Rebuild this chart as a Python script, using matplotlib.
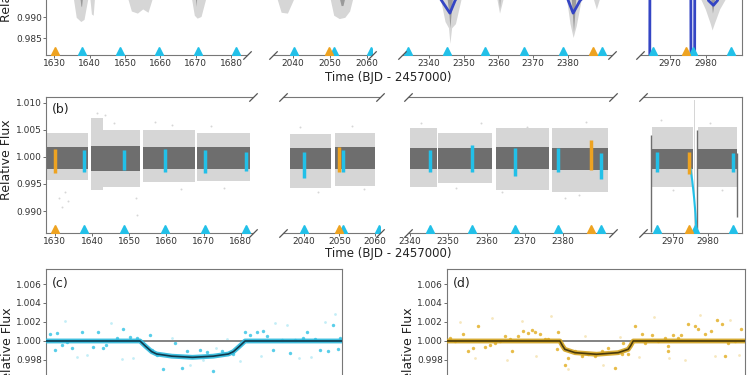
import matplotlib
matplotlib.use("Agg")
import matplotlib.pyplot as plt
import matplotlib.transforms as mtransforms
from matplotlib.ticker import FormatStrFormatter
import numpy as np

nan = np.nan
# ---------------- data ----------------
cyan_transits = [1637.7, 1648.6, 1659.6, 1670.5, 1681.4, 2040.2, 2051.0, 2061.0,
                 2334.0, 2345.2, 2356.1, 2367.3, 2378.6, 2389.8, 2965.4, 2976.3, 2987.0]
orange_transits = [1630.1, 2049.8, 2387.2, 2974.5]

seg_ticks = [[1630, 1640, 1650, 1660, 1670, 1680], [2040, 2050, 2060],
             [2340, 2350, 2360, 2370, 2380], [2970, 2980]]
xlims_a = [(1627.65, 1684.5), (2034.6, 2061.35), (2332.2, 2392.7), (2961.7, 2990.0)]
xlims_b = [(1627.6, 1683.3), (2034.2, 2061.4), (2339.5, 2393.0), (2961.4, 2989.7)]

# panel (a): lower envelope of scatter tails (light grey / dark grey)
a_light_t = [
    [1627.8, 1635.3, 1636.2, 1637.5, 1638.4, 1639.6, 1640.0, 1640.5, 1641.0, 1641.4,
     1650.6, 1651.8, 1653.5, 1655.0, 1656.5, 1657.9, 1668.7, 1669.6, 1670.4, 1671.5, 1673.0, 1683.0],
    [2034.8, 2035.5, 2036.8, 2038.5, 2040.5, 2049.9, 2051.0, 2052.5, 2054.0, 2055.3, 2056.3, 2061.0],
    [2333.0, 2343.1, 2344.6, 2345.6, 2346.0, 2346.5, 2347.6, 2349.4, 2359.4, 2360.3, 2361.5,
     2379.5, 2380.6, 2381.5, 2382.4, 2384.0, 2387.1, 2388.2, 2389.3, 2392.0],
    [2963.9, 2978.2, 2979.8, 2981.2, 2981.7, 2982.3, 2983.8, 2985.8, 2988.2]]
a_light_lo = [
    [0.9950, 0.9950, 0.9900, 0.9890, 0.9895, 0.9950, 0.9950, 0.9908, 0.9905, 0.9950,
     0.9950, 0.9915, 0.9910, 0.9920, 0.9912, 0.9950, 0.9950, 0.9905, 0.9898, 0.9902, 0.9950, 0.9950],
    [0.9950, 0.9950, 0.9912, 0.9910, 0.9950, 0.9950, 0.9905, 0.9897, 0.9900, 0.9915, 0.9950, 0.9950],
    [0.9950, 0.9950, 0.9890, 0.9875, 0.9838, 0.9875, 0.9885, 0.9950, 0.9950, 0.9910, 0.9950,
     0.9950, 0.9885, 0.9852, 0.9880, 0.9950, 0.9950, 0.9920, 0.9950, 0.9950],
    [0.9950, 0.9950, 0.9920, 0.9885, 0.9870, 0.9885, 0.9920, 0.9950, 0.9950]]
a_dark_t = [
    [1637.2, 1637.5, 1637.7, 1638.0, 1669.9, 1670.1, 1670.3],
    [2052.4, 2053.0, 2053.5, 2054.1],
    [2345.1, 2345.7, 2346.0, 2346.3, 2346.8, 2360.1, 2360.3, 2360.5,
     2380.9, 2381.3, 2381.6, 2381.9, 2382.3],
    [2981.2, 2981.6, 2981.8, 2982.1, 2982.5]]
a_dark_lo = [
    [0.9950, 0.9928, 0.9925, 0.9950, 0.9950, 0.9926, 0.9950],
    [0.9950, 0.9928, 0.9928, 0.9950],
    [0.9950, 0.9910, 0.9875, 0.9905, 0.9950, 0.9950, 0.9922, 0.9950,
     0.9950, 0.9905, 0.9866, 0.9900, 0.9950],
    [0.9950, 0.9925, 0.9910, 0.9925, 0.9950]]
# panel (a): blue model curve
a_model_t = [[], [],
             [2340.0, 2343.6, 2346.0, 2347.5, 2351.0, 2378.0, 2380.1, 2381.5, 2383.5, 2390.0],
             [2964.35, 2964.45, 2970.0, 2975.8, 2975.9, 2976.8, 2976.9, 2979.5, 2980.7,
              2982.06, 2983.2, 2985.0, 2988.2]]
a_model_f = [[], [],
             [0.9990, 0.9940, 0.9910, 0.9940, 0.9990, 0.9990, 0.9940, 0.9910, 0.9940, 0.9990],
             [0.9500, 0.9990, 0.9990, 0.9990, 0.9500, 0.9500, 0.9990, 0.9990, 0.9940,
              0.99286, 0.9940, 0.9990, 0.9990]]

# panel (b): observing chunks (scatter bands)
b_chunk_t0 = [1627.8, 1639.6, 1653.8, 1668.3, 2036.1, 2048.7, 2340.0, 2347.4, 2362.4, 2377.2, 2963.9, 2977.0]
b_chunk_t1 = [1639.0, 1652.9, 1667.7, 1682.5, 2047.8, 2060.0, 2347.0, 2361.5, 2376.3, 2391.8, 2975.6, 2988.2]
b_light_hi = [1.0044, 1.0050, 1.0050, 1.0044, 1.0042, 1.0045, 1.0053, 1.0044, 1.0053, 1.0053, 1.0056, 1.0056]
b_light_lo = [0.9957, 0.9945, 0.9953, 0.9956, 0.9942, 0.9946, 0.9945, 0.9951, 0.9939, 0.9935, 0.9944, 0.9944]
b_dark_hi = [1.0018, 1.0020, 1.0018, 1.0018, 1.0016, 1.0018, 1.0016, 1.0016, 1.0018, 1.0016, 1.0015, 1.0015]
b_dark_lo = [0.9977, 0.9974, 0.9978, 0.9978, 0.9978, 0.9978, 0.9978, 0.9978, 0.9978, 0.9976, 0.9978, 0.9978]
b_extra_t0 = [1639.6, 2976.1]
b_extra_t1 = [1643.0, 2976.4]
b_extra_lo = [0.9938, 0.9862]
b_extra_hi = [1.0072, 1.0105]
b_out_t = [1631.2, 1632.0, 1632.6, 1633.4, 1641.2, 1643.5, 1646.0, 1651.8, 1652.2, 1656.8,
           1661.5, 1664.0, 1672.0, 1675.5, 2039.0, 2044.0, 2053.5, 2057.0, 2343.0, 2352.0,
           2358.5, 2364.0, 2370.5, 2380.5, 2384.0, 2386.0, 2966.5, 2970.0, 2980.5, 2984.0]
b_out_f = [0.9925, 0.9908, 0.9935, 0.9918, 1.0082, 1.0078, 1.0062, 0.9925, 0.9892, 1.0065,
           1.0060, 0.9940, 1.0058, 0.9942, 1.0055, 0.9935, 1.0058, 0.9940, 1.0063, 0.9942,
           1.0062, 0.9935, 1.0055, 0.9925, 0.9930, 1.0065, 1.0068, 0.9938, 1.0062, 0.9938]
b_dvl_t = [2963.8, 2976.75, 2988.25]
b_dvl_lo = [0.9862, 0.9862, 0.9889]
b_dvl_hi = [1.0041, 1.0050, 1.0007]
b_streak_t = [2975.0, 2975.5, 2976.0, 2976.4, 2976.7]
b_streak_f = [0.9978, 0.9955, 0.9925, 0.9895, 0.9862]
b_cyan_lo = [0.9972, 0.9975, 0.9972, 0.9970, 0.9974, 0.9962, 0.9972, nan, nan,
             0.9973, 0.9973, 0.9964, 0.9973, 0.9960, 0.9973, nan, 0.9973]
b_cyan_hi = [1.0013, 1.0012, 1.0015, 1.0012, 1.0010, 1.0010, 1.0012, nan, nan,
             1.0013, 1.0022, 1.0016, 1.0016, 1.0007, 1.0010, nan, 1.0007]
b_orange_lo = [0.9970, 0.9973, 0.9976, 0.9969]
b_orange_hi = [1.0015, 1.0019, 1.0031, 1.0010]

# panel (c): phase-folded, planet 1 (hours from mid-transit)
c_t = [-7.78, -7.42, -6.88, -6.07, -7.51, -7.15, -6.61, -5.44, -5.17, -4.90, -4.76, -4.18,
       -3.82, -3.46, -3.10, -2.29, -2.38, -2.02, -1.66, -1.03, -0.67, -0.40, 0.32, 0.68,
       1.05, 1.50, 2.13, 2.76, 3.03, 3.39, 3.75, 3.93, 4.29, 4.74, 5.19, 5.46, 5.91, 6.09,
       6.54, 6.81, 7.26, 7.53, 7.80, 7.89]
c_f = [1.0007, 1.0008, 0.9999, 1.0009, 0.9991, 0.9996, 0.9993, 0.9994, 1.0009, 0.9993, 0.9996, 1.0003,
       1.0013, 1.0004, 1.0003, 0.9991, 1.0006, 0.9985, 0.9970, 0.9998, 0.9972, 0.9989, 0.9991, 0.9988,
       0.9968, 0.9989, 0.9986, 1.0009, 1.0006, 1.0009, 1.0011, 1.0005, 0.9991, 1.0001, 0.9987, 1.0001,
       1.0003, 1.0009, 1.0002, 0.9991, 0.9989, 1.0017, 0.9992, 1.0003]
c_faint_t = [-7.0, -6.3, -5.8, -4.5, -3.9, -3.3, -1.9, -1.2, -0.2, 0.5, 1.2, 1.8, 2.5, 3.6, 4.4,
             5.0, 5.7, 6.3, 7.1, 7.6]
c_faint_f = [1.0021, 0.9983, 0.9985, 1.0019, 0.9981, 0.9982, 0.9962, 1.0003, 0.9975, 0.9980, 0.9993,
             1.0002, 0.9979, 0.9984, 1.0019, 1.0017, 0.9982, 0.9983, 1.0020, 1.0028]
c_model_t = [-8, -2.92, -2.62, -2.29, -2.02, -1.2, -0.08, 1.04, 1.86, 2.13, 2.46, 2.76, 8]
c_model_f = [1, 1, 0.99945, 0.99888, 0.99863, 0.99840, 0.99828, 0.99840, 0.99863, 0.99888, 0.99945, 1, 1]

# panel (d): phase-folded, planet 2
d_t = [-7.84, -7.57, -7.12, -6.86, -6.59, -6.32, -5.96, -5.69, -5.42, -5.16, -4.89, -4.62, -4.53,
       -4.17, -3.90, -3.63, -3.46, -3.28, -3.01, -2.74, -2.56, -2.02, -2.11, -1.67, -1.49, -1.13,
       -0.77, -0.42, -0.05, 0.30, 0.66, 1.02, 1.37, 1.46, 1.73, 2.09, 2.45, 2.63, 2.98, 3.34,
       3.70, 3.88, 4.15, 4.42, 4.59, 4.95, 5.31, 5.49, 5.85, 6.20, 6.47, 6.74, 7.10, 7.46, 7.81,
       6.92, 3.88]
d_f = [1.00035, 1.0000, 1.00077, 0.99895, 0.99923, 1.00158, 0.99937, 0.99958, 0.99982, 1.0000,
       1.00053, 1.00018, 0.99895, 1.00053, 1.00105, 1.00088, 1.00112, 1.00098, 1.0007, 1.00018,
       1.00018, 1.00095, 0.99912, 0.99744, 0.99818, 0.99895, 0.99842, 0.99860, 0.99842, 0.99895,
       0.99923, 0.99719, 0.99867, 0.99982, 0.99860, 1.00158, 1.0007, 0.99982, 1.00063, 1.0000,
       1.00035, 0.99895, 1.00063, 1.00035, 1.00063, 1.00175, 1.00158, 1.00123, 1.0007, 1.00105,
       1.00218, 1.00175, 0.99982, 1.0000, 1.00123, 0.99842, 0.99947]
d_faint_t = [-7.3, -6.5, -5.6, -4.8, -4.0, -3.2, -2.4, -1.5, -0.6, 0.4, 1.3, 2.3, 3.1, 3.9, 4.8,
             5.6, 6.4, 7.2, 7.7]
d_faint_f = [1.0020, 0.9982, 1.0024, 0.9980, 1.0021, 0.9984, 1.0026, 0.9970, 1.0005, 0.9975, 1.0004,
             0.9983, 1.0025, 0.9982, 0.9980, 1.0027, 0.9984, 1.0022, 0.9985]
d_model_t = [-8, -1.94, -1.80, -1.67, -1.13, 0.03, 1.19, 1.73, 1.86, 2.0, 8]
d_model_f = [1, 1, 0.99950, 0.99912, 0.99877, 0.99860, 0.99877, 0.99912, 0.99950, 1, 1]

# ---------------- style ----------------
LIGHT = '#d6d6d6'
DARK = '#6e6e6e'
TAILDARK = '#9a9a9a'
CYAN = '#22c0e8'
ORANGE = '#eea321'
BLUE = '#3445c4'
SPINE = '#777777'
TXT = '#333333'

W, H = 750, 375
fig = plt.figure(figsize=(7.5, 3.75), dpi=100)


def add_ax(x0, x1, top, bottom):
    return fig.add_axes([x0 / W, 1 - bottom / H, (x1 - x0) / W, (bottom - top) / H])


def style(ax, left, right, top=True):
    for s in ax.spines.values():
        s.set_color(SPINE)
        s.set_linewidth(0.8)
    ax.spines['left'].set_visible(left)
    ax.spines['right'].set_visible(right)
    ax.spines['top'].set_visible(top)
    ax.tick_params(labelsize=6.5, colors='#555555', labelcolor=TXT, length=2, width=0.6, pad=1)
    if not left:
        ax.tick_params(axis='y', left=False, labelleft=False)


def breaks(ax, left, right):
    kw = dict(marker=[(-1, -1), (1, 1)], markersize=6, linestyle='none', color='#555555',
              mec='#555555', mew=0.9, clip_on=False, transform=ax.transAxes, zorder=10)
    if right:
        ax.plot([1, 1], [0, 1], **kw)
    if left:
        ax.plot([0, 0], [0, 1], **kw)


def triangles(ax, height_px):
    trans = mtransforms.blended_transform_factory(ax.transData, ax.transAxes)
    yf = 4.3 / height_px
    ax.plot(cyan_transits, [yf] * len(cyan_transits), linestyle='none', marker='^', ms=6,
            color=CYAN, transform=trans, zorder=6)
    ax.plot(orange_transits, [yf] * len(orange_transits), linestyle='none', marker='^', ms=6,
            color=ORANGE, transform=trans, zorder=6)


# ---------------- panel (a) ----------------
a_ext = [(46, 247), (273, 372), (402, 612), (640, 742)]
a_top, a_bot = -75, 55
for i, ((x0, x1), xl) in enumerate(zip(a_ext, xlims_a)):
    ax = add_ax(x0, x1, a_top, a_bot)
    ax.set_xlim(*xl)
    ax.set_ylim(0.98102, 1.0120)
    ax.fill_between(a_light_t[i], a_light_lo[i], 1.0, color=LIGHT, lw=0, zorder=1)
    ax.fill_between(a_dark_t[i], a_dark_lo[i], 1.0, color=TAILDARK, lw=0, zorder=2)
    if a_model_t[i]:
        ax.plot(a_model_t[i], a_model_f[i], color=BLUE, lw=2.0, zorder=4)
    triangles(ax, a_bot - a_top)
    ax.set_xticks(seg_ticks[i])
    ax.set_yticks([0.985, 0.990, 0.995, 1.000, 1.005, 1.010])
    ax.yaxis.set_major_formatter(FormatStrFormatter('%.3f'))
    style(ax, i == 0, i == 3)
    breaks(ax, i > 0, i < 3)

# ---------------- panel (b) ----------------
b_ext = [(46, 253), (283, 380), (408, 613), (643, 742)]
b_top, b_bot = 97, 233
for i, ((x0, x1), xl) in enumerate(zip(b_ext, xlims_b)):
    ax = add_ax(x0, x1, b_top, b_bot)
    ax.set_xlim(*xl)
    ax.set_ylim(0.98593, 1.0111)
    for t0, t1, lo, hi in zip(b_chunk_t0, b_chunk_t1, b_light_lo, b_light_hi):
        ax.fill_between([t0, t1], [lo, lo], [hi, hi], color=LIGHT, lw=0, zorder=1)
    for t0, t1, lo, hi in zip(b_extra_t0, b_extra_t1, b_extra_lo, b_extra_hi):
        ax.fill_between([t0, t1], [lo, lo], [hi, hi], color=LIGHT, lw=0, zorder=1)
    ax.scatter(b_out_t, b_out_f, s=2, color=LIGHT, lw=0, zorder=1)
    for t0, t1, lo, hi in zip(b_chunk_t0, b_chunk_t1, b_dark_lo, b_dark_hi):
        ax.fill_between([t0, t1], [lo, lo], [hi, hi], color=DARK, lw=0, zorder=2)
    ax.vlines(b_dvl_t, b_dvl_lo, b_dvl_hi, color=DARK, lw=1.0, zorder=2)
    ax.plot(b_streak_t, b_streak_f, color=CYAN, lw=1.5, zorder=3)
    ax.vlines(cyan_transits, b_cyan_lo, b_cyan_hi, color=CYAN, lw=2.5, zorder=3)
    ax.vlines(orange_transits, b_orange_lo, b_orange_hi, color=ORANGE, lw=2.5, zorder=3)
    triangles(ax, b_bot - b_top)
    ax.set_xticks(seg_ticks[i])
    ax.set_yticks([0.990, 0.995, 1.000, 1.005, 1.010])
    ax.yaxis.set_major_formatter(FormatStrFormatter('%.3f'))
    style(ax, i == 0, i == 3)
    breaks(ax, i > 0, i < 3)
    if i == 0:
        ax.text(6 / (x1 - x0), 1 - 12 / (b_bot - b_top), '(b)', transform=ax.transAxes,
                fontsize=9, ha='left', va='center', color='#222222')

# ---------------- panels (c), (d) ----------------
cd_top, cd_bot = 269, 420
panels = [((46, 342), c_t, c_f, c_faint_t, c_faint_f, c_model_t, c_model_f,
           '#3cc6e6', '#2bb8dc', '#0f3a4d', '(c)'),
          ((447, 745), d_t, d_f, d_faint_t, d_faint_f, d_model_t, d_model_f,
           '#e3b12a', '#d2a21e', '#4a3a0a', '(d)')]
for (x0, x1), pt, pf, ft, ff, mt, mf, pc, bc, lc, lab in panels:
    ax = add_ax(x0, x1, cd_top, cd_bot)
    ax.set_xlim(-8, 8)
    ax.set_ylim(0.99168, 1.00758)
    ax.scatter(ft, ff, s=4, color=pc, alpha=0.3, lw=0, zorder=1)
    ax.scatter(pt, pf, s=6, color=pc, alpha=0.85, lw=0, zorder=2)
    ax.axhline(1.0, color='#7a7a7a', lw=1.3, zorder=3)
    ax.plot(mt, mf, color=bc, lw=3.5, alpha=0.9, zorder=4, solid_capstyle='butt')
    ax.plot(mt, mf, color=lc, lw=1.2, zorder=5)
    ax.set_yticks([0.992, 0.994, 0.996, 0.998, 1.000, 1.002, 1.004, 1.006])
    ax.yaxis.set_major_formatter(FormatStrFormatter('%.3f'))
    style(ax, True, True)
    ax.text(6 / (x1 - x0), 1 - 14 / (cd_bot - cd_top), lab, transform=ax.transAxes,
            fontsize=9, ha='left', va='center', color='#222222')

# ---------------- labels ----------------
fig.text(388.5 / W, 1 - 77 / H, 'Time (BJD - 2457000)', ha='center', va='center',
         fontsize=8.5, color='#222222')
fig.text(388.5 / W, 1 - 254 / H, 'Time (BJD - 2457000)', ha='center', va='center',
         fontsize=8.5, color='#222222')
for xp, yp in [(7, -18), (7, 160), (8, 348), (409, 348)]:
    fig.text(xp / W, 1 - yp / H, 'Relative Flux', rotation=90, ha='center', va='center',
             fontsize=9, color='#222222')

fig.savefig('out.png', dpi=100)
